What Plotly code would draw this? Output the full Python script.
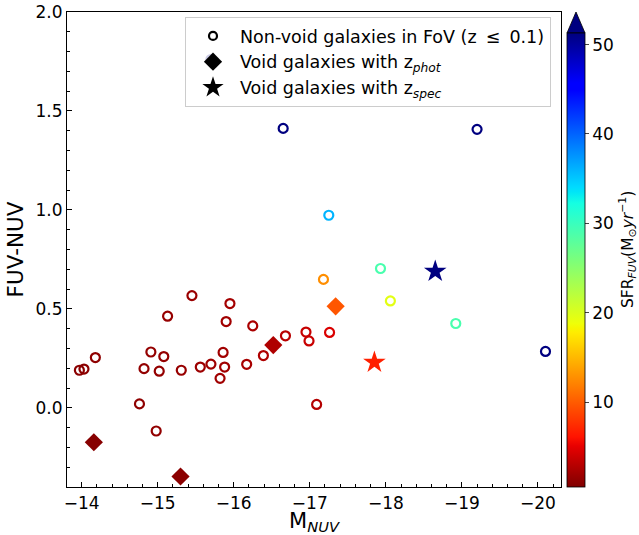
import numpy as np
import plotly.graph_objects as go

# ---- data ----
nv_mnuv = [-13.97, -14.03, -14.18, -14.76, -14.98, -14.82, -14.91, -15.02, -15.08, -15.13,
           -15.31, -15.45, -15.56, -15.70, -15.82, -15.86, -15.88, -15.90, -15.95, -16.17,
           -16.25, -16.39, -16.68, -16.95, -16.99, -17.09, -17.26, -17.18, -17.25, -17.93,
           -18.06, -18.92, -20.10, -16.65, -19.20, -15.70]
nv_color = [0.190, 0.196, 0.254, 0.020, -0.117, 0.198, 0.282, 0.185, 0.259, 0.463,
            0.190, 0.567, 0.206, 0.221, 0.149, 0.280, 0.206, 0.436, 0.527, 0.220,
            0.414, 0.264, 0.364, 0.383, 0.338, 0.017, 0.381, 0.649, 0.973, 0.704,
            0.540, 0.426, 0.285, 1.412, 1.407, 1.760]
nv_sfr = [1.0, 1.0, 1.2, 1.2, 1.3, 1.3, 1.4, 1.4, 1.4, 1.5,
          1.6, 1.7, 1.8, 1.9, 2.0, 2.0, 2.0, 2.0, 2.1, 2.3,
          2.4, 2.6, 3.0, 3.6, 3.7, 2.8, 4.5, 12.7, 36.0, 29.0,
          19.5, 29.0, 55.0, 55.0, 55.0, 55.0]

phot_mnuv = [-14.16, -15.30, -16.52, -17.34]
phot_color = [-0.174, -0.347, 0.317, 0.513]
phot_sfr = [0.8, 1.0, 2.6, 9.7]

spec_mnuv = [-18.65, -17.85]
spec_color = [0.689, 0.230]
spec_sfr = [55.0, 6.8]

cbar_ticks = [10, 20, 30, 40, 50]
x_ticks = [-14, -15, -16, -17, -18, -19, -20]
y_ticks = [0.0, 0.5, 1.0, 1.5, 2.0]

# ---- matplotlib 'jet_r' colorscale ----
def jet(f):
    r = np.interp(f, [0, 0.35, 0.66, 0.89, 1], [0, 0, 1, 1, 0.5])
    g = np.interp(f, [0, 0.125, 0.375, 0.64, 0.91, 1], [0, 0, 1, 1, 0, 0])
    b = np.interp(f, [0, 0.11, 0.34, 0.65, 1], [0.5, 1, 1, 0, 0])
    return f"rgb({int(round(r*255))},{int(round(g*255))},{int(round(b*255))})"

pos = sorted(set(list(np.round(np.linspace(0, 1, 41), 4)) +
                 [round(1 - v, 4) for v in [0.11, 0.125, 0.34, 0.35, 0.375, 0.64, 0.65, 0.66, 0.89, 0.91]]))
colorscale = [[float(p), jet(1 - p)] for p in pos]

FONT = "DejaVu Sans"
L, R, T, B = 67, 78, 12, 48
W, H = 639, 535
pw, ph = W - L - R, H - T - B

fig = go.Figure()

fig.add_trace(go.Scatter(
    x=nv_mnuv, y=nv_color, mode="markers", showlegend=False,
    marker=dict(symbol="circle-open", size=9, color=nv_sfr, coloraxis="coloraxis",
                line=dict(width=2.2))))
fig.add_trace(go.Scatter(
    x=phot_mnuv, y=phot_color, mode="markers", showlegend=False,
    marker=dict(symbol="diamond", size=14, color=phot_sfr, coloraxis="coloraxis",
                line=dict(width=0))))
fig.add_trace(go.Scatter(
    x=spec_mnuv, y=spec_color, mode="markers", showlegend=False,
    marker=dict(symbol="star", size=17, color=spec_sfr, coloraxis="coloraxis",
                line=dict(width=0))))

# legend entries (black symbols)
fig.add_trace(go.Scatter(x=[None], y=[None], mode="markers",
                         name="Non-void galaxies in FoV (z \u2009\u2264\u2009 0.1)",
                         marker=dict(symbol="circle-open", size=8, color="black", line=dict(width=2.2))))
fig.add_trace(go.Scatter(x=[None], y=[None], mode="markers",
                         name="Void galaxies with z<sub><i>phot</i></sub>",
                         marker=dict(symbol="diamond", size=14, color="black")))
fig.add_trace(go.Scatter(x=[None], y=[None], mode="markers",
                         name="Void galaxies with z<sub><i>spec</i></sub>",
                         marker=dict(symbol="star", size=17, color="black")))

bar_top_px = 33
cb_x0 = (567 - L) / pw
cb_x1 = (585 - L) / pw
base_y = (H - B - bar_top_px) / ph

fig.update_layout(
    width=W, height=H,
    margin=dict(l=L, r=R, t=T, b=B, autoexpand=False),
    paper_bgcolor="white", plot_bgcolor="white",
    font=dict(family=FONT, size=17, color="black"),
    coloraxis=dict(
        colorscale=colorscale, cmin=0.5, cmax=51.3,
        colorbar=dict(
            x=cb_x0, xanchor="left", xpad=0, thickness=18,
            y=0, yanchor="bottom", ypad=0,
            lenmode="pixels", len=(H - B) - bar_top_px,
            outlinewidth=0.8, outlinecolor="black",
            tickvals=cbar_ticks, ticks="outside", ticklen=4, tickwidth=1,
            tickfont=dict(family=FONT, size=17),
        ),
    ),
    legend=dict(
        x=(551 - L) / pw, xanchor="right", y=(H - B - 17) / ph, yanchor="top",
        bgcolor="rgba(255,255,255,0.8)", bordercolor="#cccccc", borderwidth=1,
        font=dict(family=FONT, size=17.5), itemsizing="trace", tracegroupgap=0,
        itemwidth=44,
    ),
    xaxis=dict(
        range=[-13.807, -20.304], tickvals=x_ticks,
        ticks="inside", ticklen=5, tickwidth=1, tickcolor="black",
        minor=dict(dtick=0.2, tick0=0, ticks="inside", ticklen=2.5, tickcolor="black", showgrid=False),
        showline=True, linecolor="black", linewidth=1.2, mirror=True,
        showgrid=False, zeroline=False,
        tickfont=dict(family=FONT, size=17),
        title=dict(text="M<sub><i>NUV</i></sub>", font=dict(family=FONT, size=21), standoff=7),
    ),
    yaxis=dict(
        range=[-0.4, 2.0], tickvals=y_ticks, tickformat=".1f",
        ticks="inside", ticklen=5, tickwidth=1, tickcolor="black",
        minor=dict(dtick=0.1, tick0=0, ticks="inside", ticklen=2.5, tickcolor="black", showgrid=False),
        showline=True, linecolor="black", linewidth=1.2, mirror=True,
        showgrid=False, zeroline=False,
        tickfont=dict(family=FONT, size=17),
        title=dict(text="FUV-NUV", font=dict(family=FONT, size=21.5), standoff=5),
    ),
    shapes=[dict(
        type="path", xref="paper", yref="paper",
        path=f"M {cb_x0} {base_y} L {(cb_x0 + cb_x1) / 2} 1.0 L {cb_x1} {base_y} Z",
        fillcolor=jet(0.0), line=dict(color="black", width=0.8), layer="above")],
    annotations=[dict(
        text="SFR<sub><i>FUV</i></sub>(M<sub>\u2299</sub><i>yr</i><sup>\u22121</sup>)",
        xref="paper", yref="paper", x=(627 - L) / pw, y=(H - B - 250) / ph,
        xanchor="center", yanchor="middle", textangle=-90, showarrow=False,
        font=dict(family=FONT, size=15.5))],
)

fig.write_html("out.html")
